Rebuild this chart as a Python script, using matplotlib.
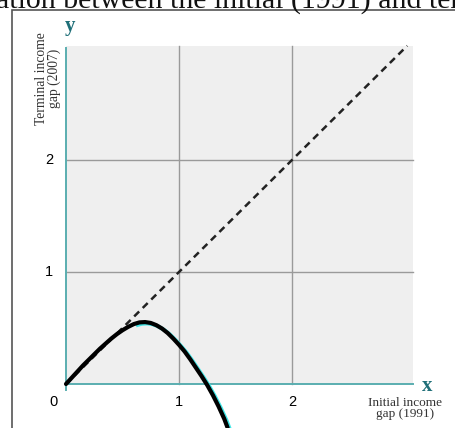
import matplotlib
matplotlib.use("Agg")
import matplotlib.pyplot as plt
from matplotlib.patches import Rectangle
from matplotlib.transforms import offset_copy

# colours
BG_GRAY = '#efefef'
GRID_GRAY = '#9a9a9a'
AXIS_TEAL = '#5aaeb0'
LABEL_TEAL = '#1f6f78'
SHADOW_CYAN = '#3fe6e6'

# data
curve_x = [0.0, 0.05, 0.1, 0.15, 0.2, 0.25, 0.3, 0.35, 0.4, 0.45, 0.5, 0.55, 0.6, 0.65, 0.7,
           0.75, 0.8, 0.85, 0.9, 0.95, 1.0, 1.05, 1.1, 1.15, 1.2, 1.25, 1.3, 1.35, 1.4, 1.43]
curve_y = [0.0, 0.055, 0.11, 0.165, 0.215, 0.265, 0.315, 0.36, 0.405, 0.445, 0.48, 0.51, 0.535,
           0.55, 0.553, 0.545, 0.525, 0.495, 0.455, 0.405, 0.35, 0.29, 0.22, 0.145, 0.07, -0.01,
           -0.1, -0.2, -0.31, -0.39]
diag_x = [0.0, 3.02]
diag_y = [0.0, 3.02]
tick_vals = [1, 2]
x_tick_labels = ['0', '1', '2']

fig = plt.figure(figsize=(4.56, 4.28), dpi=100)
ax = fig.add_axes([0, 0, 1, 1])
ax.set_xlim(-66 / 113, (456 - 66) / 113)
ax.set_ylim(-44 / 112, 384 / 112)
ax.axis('off')

# outer frame and cropped heading
fig.patches.append(Rectangle((12.5 / 456, -0.1), 1.2, (418 / 428) + 0.1, transform=fig.transFigure,
                             fill=False, edgecolor='#555555', linewidth=1.2))
fig.text(0.5, 1 - 8 / 428, 'ation between the initial (1991) and ter', ha='center', va='baseline',
         fontsize=21.5, family='Liberation Serif', color='#111111')

# plot area
ax.add_patch(Rectangle((0, 0), 3.07, 3.02, facecolor=BG_GRAY, edgecolor='none', zorder=0))
for v in tick_vals:
    ax.plot([v, v], [0, 3.02], color=GRID_GRAY, lw=1, zorder=1)
    ax.plot([0, 3.07], [v, v], color=GRID_GRAY, lw=1, zorder=1)

# axes lines
ax.plot([0, 3.07], [0, 0], color=AXIS_TEAL, lw=1.4, zorder=2)
ax.plot([0, 0], [-0.05, 3.0], color=AXIS_TEAL, lw=1.4, zorder=2)

# diagonal
ax.plot(diag_x, diag_y, color='#222222', lw=1.8, ls=(0, (2.8, 2.0)), zorder=3)

# curve with cyan shadow on the falling side
shadow = offset_copy(ax.transData, fig=fig, x=1.6, y=-1.0, units='points')
ax.plot(curve_x[12:], curve_y[12:], color=SHADOW_CYAN, lw=2.8, transform=shadow, zorder=4,
        solid_capstyle='butt')
ax.plot(curve_x, curve_y, color='black', lw=3.0, zorder=5, solid_capstyle='round',
        solid_joinstyle='round')

# tick labels
for i, lab in enumerate(x_tick_labels):
    xpos = -0.11 if i == 0 else i
    ax.text(xpos, -0.16, lab, ha='center', va='center', fontsize=10.5, family='Liberation Sans')
for v in tick_vals:
    ax.text(-0.15, v, str(v), ha='center', va='center', fontsize=10.5, family='Liberation Sans')

# axis names
ax.text(0.04, 3.2, 'y', ha='center', va='center', fontsize=15, fontweight='bold',
        family='Liberation Serif', color=LABEL_TEAL)
ax.text(3.2, -0.02, 'x', ha='center', va='center', fontsize=15, fontweight='bold',
        family='Liberation Serif', color=LABEL_TEAL)
ax.text(-0.16, 2.73, 'Terminal income\ngap (2007)', ha='center', va='center', rotation=90,
        fontsize=9.8, family='Liberation Serif', color='#333333', linespacing=0.95)
ax.text(3.0, -0.215, 'Initial income\ngap (1991)', ha='center', va='center',
        fontsize=9.5, family='Liberation Serif', color='#333333', linespacing=0.9)

fig.savefig('out.png', dpi=100)
